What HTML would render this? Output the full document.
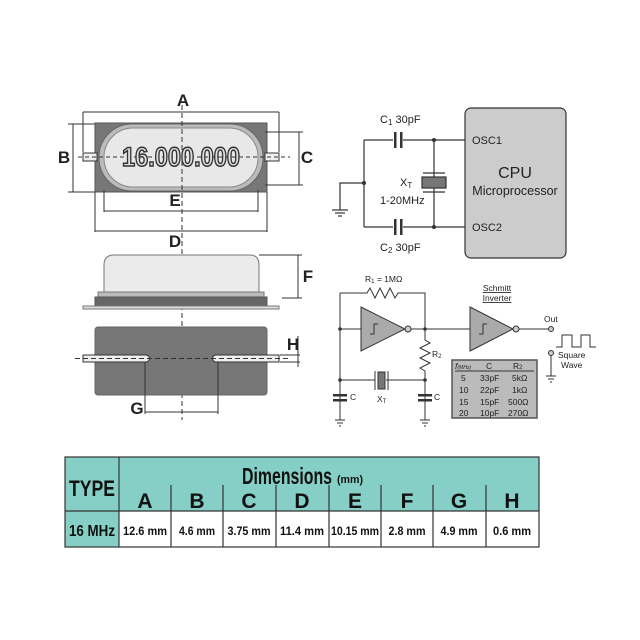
<!DOCTYPE html>
<html><head><meta charset="utf-8"><style>
body{margin:0;background:#fff;width:640px;height:640px;overflow:hidden}
svg{position:absolute;left:0;top:0}
text{font-family:"Liberation Sans",sans-serif}
</style></head><body>
<svg width="640" height="640" viewBox="0 0 640 640">
<g stroke="#333" stroke-width="1" fill="none">
<rect x="95" y="123" width="172" height="69" fill="#777" stroke="#555"/>
<rect x="83" y="153" width="14" height="8" fill="#eee"/>
<rect x="265" y="153" width="14" height="8" fill="#eee"/>
<rect x="99" y="124" width="164" height="67" rx="33" fill="#bbb" stroke="#666"/>
<rect x="104" y="128" width="154" height="59" rx="29" fill="#e8e8e8" stroke="#888"/>
<line x1="83" y1="112" x2="279" y2="112"/><line x1="83" y1="112" x2="83" y2="152"/><line x1="279" y1="112" x2="279" y2="152"/>
<line x1="73" y1="124" x2="73" y2="192"/><line x1="68" y1="124" x2="95" y2="124"/><line x1="68" y1="192" x2="95" y2="192"/>
<line x1="299" y1="132" x2="299" y2="185"/><line x1="265" y1="132" x2="303" y2="132"/><line x1="265" y1="185" x2="303" y2="185"/>
<line x1="104" y1="211" x2="258" y2="211"/><line x1="104" y1="190" x2="104" y2="212"/><line x1="258" y1="190" x2="258" y2="212"/>
<line x1="95" y1="231" x2="267" y2="231"/><line x1="95" y1="192" x2="95" y2="232"/><line x1="267" y1="192" x2="267" y2="232"/>
<line x1="78" y1="157" x2="290" y2="157" stroke-dasharray="4,3"/>
<line x1="182" y1="105" x2="182" y2="420" stroke-dasharray="5,3"/>
<path d="M104 292 V265 Q104 255 114 255 H250 Q259 255 259 265 V292 Z" fill="#ebebeb" stroke="#777"/>
<rect x="98" y="292" width="166" height="5" fill="#bbb" stroke="#777"/>
<rect x="95" y="297" width="172" height="9" fill="#666" stroke="#555"/>
<rect x="83" y="306" width="196" height="3" fill="#ddd" stroke="#777"/>
<line x1="298" y1="255" x2="298" y2="298"/><line x1="259" y1="255" x2="302" y2="255"/><line x1="282" y1="298" x2="302" y2="298"/>
<rect x="95" y="327" width="172" height="68" rx="3" fill="#777" stroke="#666"/>
<path d="M83 355 H146 A3.5 3.5 0 0 1 146 362 H83 Z" fill="#eee"/>
<path d="M279 355 H216 A3.5 3.5 0 0 0 216 362 H279 Z" fill="#eee"/>
<line x1="75" y1="358.5" x2="290" y2="358.5" stroke-dasharray="5,3"/>
<line x1="298" y1="336" x2="298" y2="367"/><line x1="280" y1="355" x2="300" y2="355"/><line x1="280" y1="362" x2="300" y2="362"/>
<line x1="145" y1="362" x2="145" y2="414"/><line x1="218" y1="362" x2="218" y2="414"/><line x1="145" y1="412" x2="218" y2="412"/>
</g>
<g font-weight="bold" fill="#222" font-size="17" text-anchor="middle">
<text x="183" y="106">A</text><text x="64" y="163">B</text><text x="307" y="163">C</text>
<text x="175" y="206">E</text><text x="175" y="247">D</text><text x="308" y="282">F</text>
<text x="293" y="350">H</text><text x="137" y="414">G</text>
<text x="181" y="166" font-size="27" fill="#ddd" stroke="#333" stroke-width="1.5" textLength="118" lengthAdjust="spacingAndGlyphs">16.000.000</text>
</g>
<g stroke="#333" stroke-width="1.2" fill="none">
<rect x="465" y="108" width="101" height="150" rx="6" fill="#ccc"/>
<path d="M364 140 H465 M364 227 H465 M364 140 V227 M364 183 H340 V210"/>
<line x1="332" y1="210" x2="348" y2="210"/><line x1="335" y1="213" x2="345" y2="213"/><line x1="338" y1="216" x2="342" y2="216"/>
<line x1="434" y1="140" x2="434" y2="227"/>
<rect x="422" y="177" width="24" height="11" fill="#777"/>
<line x1="423" y1="173" x2="445" y2="173"/><line x1="423" y1="192" x2="445" y2="192"/>
</g>
<rect x="393" y="132" width="10" height="16" fill="#fff"/><rect x="393" y="219" width="10" height="16" fill="#fff"/>
<g fill="#333"><rect x="394" y="132" width="2.5" height="16"/><rect x="400" y="132" width="2.5" height="16"/>
<rect x="394" y="219" width="2.5" height="16"/><rect x="400" y="219" width="2.5" height="16"/>
<circle cx="434" cy="140" r="2"/><circle cx="434" cy="227" r="2"/><circle cx="364" cy="183" r="2"/></g>
<g font-size="11" fill="#222">
<text x="380" y="123">C<tspan font-size="8" dy="2">1</tspan><tspan dy="-2"> 30pF</tspan></text>
<text x="380" y="251">C<tspan font-size="8" dy="2">2</tspan><tspan dy="-2"> 30pF</tspan></text>
<text x="400" y="186">X<tspan font-size="8" dy="2">T</tspan></text>
<text x="380" y="204">1-20MHz</text>
<text x="472" y="144">OSC1</text><text x="472" y="231">OSC2</text>
<text x="515" y="178" font-size="16" text-anchor="middle">CPU</text>
<text x="515" y="195" font-size="12.5" text-anchor="middle">Microprocessor</text>
</g>
<g stroke="#333" stroke-width="1" fill="none">
<path d="M340 293 H367 l3 -5 l5 10 l5 -10 l5 10 l5 -10 l5 10 l3 -5 H425 V340 l5 3 l-10 5 l10 5 l-10 5 l10 5 l-10 5 l5 3 V380 H403 M340 293 V400 M340 329 H361 M411 329 H470 M517 329 H548 M340 380 H375 M386 380 H403 M425 380 V400"/>
<path d="M361 307 L405 329 L361 351 Z" fill="#aaa"/>
<path d="M470 307 L513 329 L470 351 Z" fill="#aaa"/>
<circle cx="408" cy="329" r="3" fill="#ccc"/><circle cx="516" cy="329" r="3" fill="#ccc"/>
<circle cx="551" cy="329" r="2.5" fill="#ccc"/><circle cx="551" cy="353" r="2.5" fill="#ccc"/>
<path d="M370 334 h4 v-10 h4 M479 334 h4 v-10 h4"/>
<path d="M551 356 V376 M546 376 h10 M548 379 h6 M550 382 h2"/>
<path d="M340 400 V420 M425 400 V420 M335 420 h10 M337 423 h6 M339 426 h2 M420 420 h10 M422 423 h6 M424 426 h2"/>
<path d="M556 347 H562 V335 H572 V347 H581 V335 H590 V347 H596"/>
<rect x="452" y="360" width="85" height="58" fill="#bbb" stroke="#555" stroke-width="1.5"/>
<line x1="455" y1="371" x2="534" y2="371"/>
<rect x="378" y="372" width="7" height="17" fill="#777"/>
<line x1="375" y1="371" x2="375" y2="390"/><line x1="388" y1="371" x2="388" y2="390"/>
</g>
<g fill="#333"><rect x="333" y="394" width="14" height="2.5"/><rect x="333" y="399" width="14" height="2.5"/>
<rect x="418" y="394" width="14" height="2.5"/><rect x="418" y="399" width="14" height="2.5"/>
<circle cx="340" cy="329" r="1.8"/><circle cx="425" cy="329" r="1.8"/><circle cx="340" cy="380" r="1.8"/><circle cx="425" cy="380" r="1.8"/></g>
<g font-size="8.5" fill="#222">
<text x="365" y="282">R<tspan font-size="6" dy="1">1</tspan><tspan dy="-1"> = 1MΩ</tspan></text>
<text x="432" y="357">R<tspan font-size="6" dy="1">2</tspan></text>
<text x="350" y="400">C</text><text x="434" y="400">C</text>
<text x="377" y="402">X<tspan font-size="6" dy="1">T</tspan></text>
<text x="497" y="291" text-anchor="middle" text-decoration="underline">Schmitt</text>
<text x="497" y="301" text-anchor="middle" text-decoration="underline">Inverter</text>
<text x="544" y="322">Out</text>
<text x="558" y="358">Square</text><text x="561" y="368">Wave</text>
<text x="455" y="369" font-style="italic">f<tspan font-size="5">(MHz)</tspan></text><text x="486" y="369">C</text><text x="513" y="369">R<tspan font-size="6">2</tspan></text>
<text x="461" y="381">5</text><text x="480" y="381">33pF</text><text x="512" y="381">5kΩ</text>
<text x="459" y="393">10</text><text x="480" y="393">22pF</text><text x="512" y="393">1kΩ</text>
<text x="459" y="405">15</text><text x="480" y="405">15pF</text><text x="508" y="405">500Ω</text>
<text x="459" y="416">20</text><text x="480" y="416">10pF</text><text x="508" y="416">270Ω</text>
</g>
<rect x="65" y="457" width="474" height="54" fill="#85cfc6"/>
<rect x="65" y="511" width="54" height="36" fill="#85cfc6"/>
<rect x="119" y="511" width="420" height="36" fill="#fff"/>
<g stroke="#333" stroke-width="1.2" fill="none">
<rect x="65" y="457" width="474" height="90"/>
<line x1="65" y1="511" x2="539" y2="511"/>
<line x1="119" y1="457" x2="119" y2="547"/>
<path d="M171 485V547 M223 485V547 M276 485V547 M329 485V547 M381 485V547 M433 485V547 M486 485V547"/>
</g>
<g font-weight="bold" fill="#111" text-anchor="middle">
<text x="92" y="496" font-size="22" textLength="46" lengthAdjust="spacingAndGlyphs">TYPE</text>
<text x="287" y="484" font-size="23" textLength="90" lengthAdjust="spacingAndGlyphs">Dimensions</text>
<text x="350" y="483" font-size="11" textLength="26" lengthAdjust="spacingAndGlyphs">(mm)</text>
<g font-size="21">
<text x="145" y="508">A</text><text x="197" y="508">B</text><text x="249" y="508">C</text><text x="302" y="508">D</text>
<text x="355" y="508">E</text><text x="407" y="508">F</text><text x="459" y="508">G</text><text x="512" y="508">H</text></g>
<text x="92" y="536" font-size="16" textLength="46" lengthAdjust="spacingAndGlyphs">16 MHz</text>
<g font-size="12">
<text x="145" y="535" textLength="44" lengthAdjust="spacingAndGlyphs">12.6 mm</text>
<text x="197" y="535" textLength="36" lengthAdjust="spacingAndGlyphs">4.6 mm</text>
<text x="249" y="535" textLength="43" lengthAdjust="spacingAndGlyphs">3.75 mm</text>
<text x="302" y="535" textLength="44" lengthAdjust="spacingAndGlyphs">11.4 mm</text>
<text x="355" y="535" textLength="48" lengthAdjust="spacingAndGlyphs">10.15 mm</text>
<text x="407" y="535" textLength="37" lengthAdjust="spacingAndGlyphs">2.8 mm</text>
<text x="459" y="535" textLength="37" lengthAdjust="spacingAndGlyphs">4.9 mm</text>
<text x="512" y="535" textLength="38" lengthAdjust="spacingAndGlyphs">0.6 mm</text></g>
</g>
</svg>
</body></html>
